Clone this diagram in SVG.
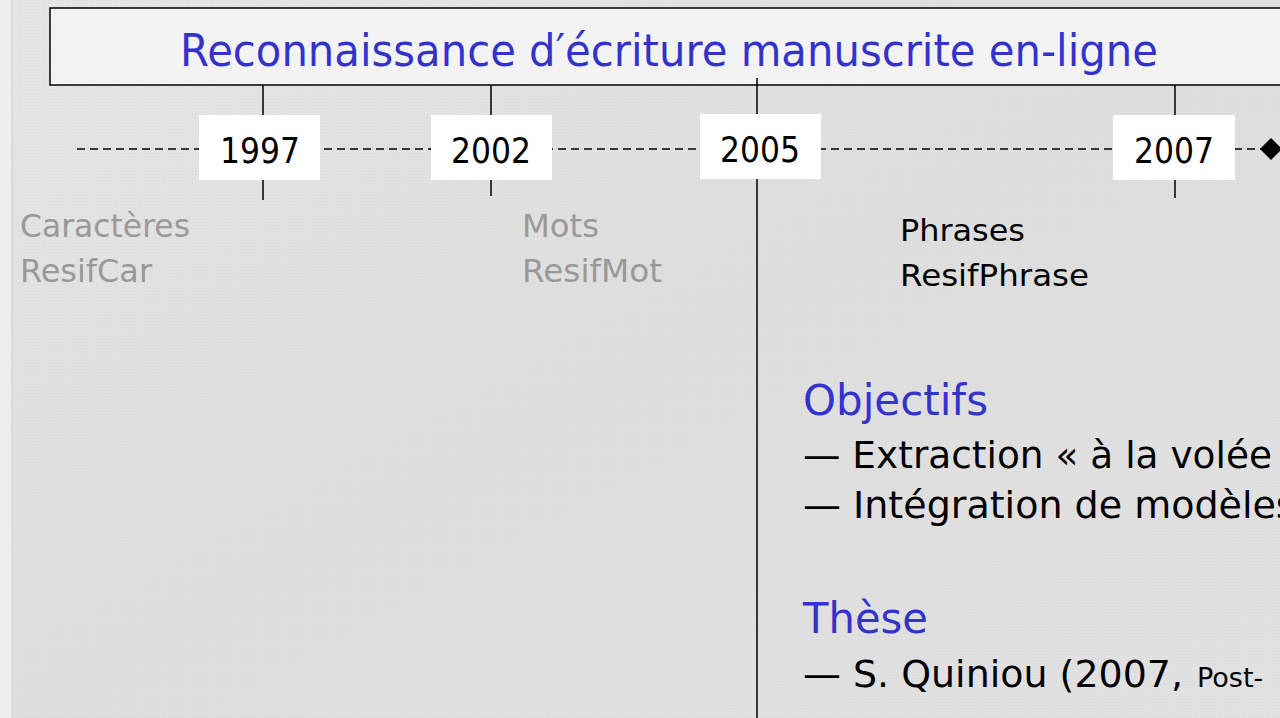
<svg xmlns="http://www.w3.org/2000/svg" width="1280" height="718" viewBox="0 0 1280 718">
<defs>
<style>
.t{font-family:"DejaVu Sans","Liberation Sans",sans-serif;}
.yr{font-size:36px;fill:#000;text-anchor:middle;}
.gray{font-size:32px;fill:#999;}
.blk{font-size:30px;fill:#000;}
.blue{fill:#3333cc;}
.body{font-size:38px;fill:#000;}
.vl{stroke:#000;stroke-width:1.5;}
</style>
<linearGradient id="bg" x1="0" y1="0" x2="1" y2="1">
<stop offset="0" stop-color="#e6e6e6"/>
<stop offset="0.5" stop-color="#dedede"/>
<stop offset="1" stop-color="#e2e2e2"/>
</linearGradient>
<pattern id="dots" width="3" height="3" patternUnits="userSpaceOnUse">
<rect width="3" height="3" fill="none"/>
<rect width="1" height="1" fill="#d4d4d4" opacity="0.5"/>
</pattern>
</defs>
<rect width="1280" height="718" fill="url(#bg)"/>
<rect width="1280" height="718" fill="url(#dots)"/>
<rect x="0" y="0" width="12" height="718" fill="#eeeeee"/>
<line x1="12" y1="0" x2="12" y2="718" stroke="#cfcfcf" stroke-width="1"/>

<g id="title">
<rect x="50" y="8" width="1240" height="77" fill="#f3f3f3" stroke="#000" stroke-width="1.5"/>
<text class="t blue" x="180" y="66" font-size="44" textLength="978" lengthAdjust="spacingAndGlyphs">Reconnaissance d′écriture manuscrite en-ligne</text>
</g>

<g id="connectors">
<line x1="77" y1="149" x2="1262" y2="149" stroke="#000" stroke-width="1.5" stroke-dasharray="8,5"/>
<path d="M1271,138 L1282,149 L1271,160 L1260,149 Z" fill="#000"/>
<line class="vl" x1="263" y1="85" x2="263" y2="200"/>
<line class="vl" x1="491" y1="85" x2="491" y2="196"/>
<line class="vl" x1="757" y1="78" x2="757" y2="718"/>
<line class="vl" x1="1175" y1="85" x2="1175" y2="198"/>
</g>

<g id="y1997">
<rect x="199" y="115" width="121" height="65" fill="#fff"/>
<text class="t yr" x="260" y="163" textLength="80" lengthAdjust="spacingAndGlyphs">1997</text>
</g>
<g id="y2002">
<rect x="431" y="115" width="121" height="65" fill="#fff"/>
<text class="t yr" x="491" y="163" textLength="80" lengthAdjust="spacingAndGlyphs">2002</text>
</g>
<g id="y2005">
<rect x="700" y="114" width="121" height="65" fill="#fff"/>
<text class="t yr" x="760" y="162" textLength="80" lengthAdjust="spacingAndGlyphs">2005</text>
</g>
<g id="y2007">
<rect x="1113" y="115" width="122" height="65" fill="#fff"/>
<text class="t yr" x="1174" y="163" textLength="80" lengthAdjust="spacingAndGlyphs">2007</text>
</g>

<g id="caracteres">
<text class="t gray" x="20" y="237" textLength="170" lengthAdjust="spacingAndGlyphs">Caractères</text>
<text class="t gray" x="20" y="282" textLength="132" lengthAdjust="spacingAndGlyphs">ResifCar</text>
</g>
<g id="mots">
<text class="t gray" x="522" y="237" textLength="77" lengthAdjust="spacingAndGlyphs">Mots</text>
<text class="t gray" x="522" y="282" textLength="140" lengthAdjust="spacingAndGlyphs">ResifMot</text>
</g>
<g id="phrases">
<text class="t blk" x="900" y="241" textLength="125" lengthAdjust="spacingAndGlyphs">Phrases</text>
<text class="t blk" x="900" y="286" textLength="189" lengthAdjust="spacingAndGlyphs">ResifPhrase</text>
</g>

<g id="objectifs">
<text class="t blue" x="803" y="415" font-size="42" textLength="185" lengthAdjust="spacingAndGlyphs">Objectifs</text>
<text class="t body" x="803" y="468" textLength="469" lengthAdjust="spacingAndGlyphs">— Extraction « à la volée</text>
<text class="t body" x="803" y="518">— Intégration de modèles</text>
</g>
<g id="these">
<text class="t blue" x="803" y="633" font-size="42" textLength="125" lengthAdjust="spacingAndGlyphs">Thèse</text>
<text class="t body" x="803" y="687" textLength="380" lengthAdjust="spacingAndGlyphs">— S. Quiniou (2007,</text>
<text class="t" x="1197" y="687" font-size="27" fill="#000">Post-</text>
</g>
</svg>
